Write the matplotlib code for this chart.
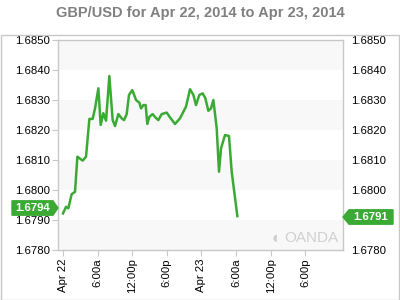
import matplotlib
matplotlib.use('Agg')
import matplotlib.pyplot as plt
import matplotlib.transforms as mtransforms
from matplotlib.patches import Polygon, Rectangle

plt.rcParams['font.family'] = ['Liberation Sans', 'DejaVu Sans']

# hours since Apr 22 00:00
hours = [0.0, 0.52, 0.92, 1.50, 2.08, 2.49, 3.41, 3.99, 4.57, 5.14, 5.55, 6.13,
         6.53, 6.99, 7.46, 8.03, 8.61, 9.02, 9.59, 10.17, 10.58, 11.04, 11.44,
         12.02, 12.66, 13.24, 13.53, 13.93, 14.33, 14.62, 14.97, 15.55, 16.01,
         16.53, 17.11, 17.98, 18.55, 19.42, 20.29, 21.33, 22.02, 22.60, 23.06,
         23.64, 24.22, 24.68, 25.20, 25.66, 26.07, 26.65, 27.05, 27.40, 28.09,
         28.78, 29.25, 30.23]
rates = [1.67922, 1.67944, 1.67939, 1.67986, 1.67994, 1.68111, 1.68098, 1.68111,
         1.68237, 1.68237, 1.68272, 1.68339, 1.68217, 1.68256, 1.68231, 1.68380,
         1.68233, 1.68213, 1.68253, 1.68239, 1.68233, 1.68253, 1.68317, 1.68333,
         1.68300, 1.68291, 1.68272, 1.68283, 1.68283, 1.68220, 1.68244, 1.68253,
         1.68242, 1.68233, 1.68253, 1.68258, 1.68242, 1.68220, 1.68239, 1.68278,
         1.68336, 1.68317, 1.68283, 1.68317, 1.68322, 1.68306, 1.68264, 1.68272,
         1.68300, 1.68206, 1.68061, 1.68139, 1.68183, 1.68180, 1.68061, 1.67913]

x_ticks = [0, 6, 12, 18, 24, 30, 36, 42]
x_labels = ['Apr 22', '6:00a', '12:00p', '6:00p', 'Apr 23', '6:00a', '12:00p', '6:00p']
y_ticks = [1.6780, 1.6790, 1.6800, 1.6810, 1.6820, 1.6830, 1.6840, 1.6850]
open_label = '1.6794'
open_value = 1.6794
close_label = '1.6791'
close_value = 1.6791

green = '#3aaa35'
frame = '#c8c8c8'

fig = plt.figure(figsize=(4, 3), dpi=100)
ax = fig.add_axes([58 / 400, 50 / 300, 285 / 400, 210 / 300])

# alternating bands
for i in range(0, len(y_ticks) - 1, 2):
    ax.axhspan(y_ticks[i], y_ticks[i + 1], color='#f8f8f8', zorder=0, lw=0)

ax.plot(hours, rates, color=green, lw=1.8, zorder=3)

ax.set_xlim(-0.87, 48.55)
ax.set_ylim(1.6780, 1.6850)
ax.set_xticks(x_ticks)
ax.set_xticklabels(x_labels, rotation=90, fontsize=8.2)
ax.set_yticks(y_ticks)
ax.set_yticklabels(['%.4f' % v for v in y_ticks], fontsize=8.2)
ax.tick_params(axis='y', length=4, color=frame, pad=2, labelright=True)
ax.tick_params(axis='y', which='both', right=False)
ax.tick_params(axis='x', length=4, color=frame, pad=2)
for s in ax.spines.values():
    s.set_color(frame)
    s.set_linewidth(1)

fig.text(0.5, 0.957, 'GBP/USD for Apr 22, 2014 to Apr 23, 2014', ha='center',
         va='center', fontsize=10.5, fontweight='bold', color='#808080')

# current value boxes
tr = mtransforms.blended_transform_factory(fig.transFigure, ax.transData)
h = 0.00024
lx0, lx1, ltip = 12 / 400, 53 / 400, 58 / 400
fig.add_artist(Polygon([(lx0, open_value - h), (lx1, open_value - h), (ltip, open_value),
                        (lx1, open_value + h), (lx0, open_value + h)],
                       closed=True, transform=tr, color=green, clip_on=False))
fig.text((lx0 + lx1) / 2, open_value, open_label, transform=tr, ha='center',
         va='center', color='white', fontsize=8.2, fontweight='bold')
rtip, rx0, rx1 = 343 / 400, 349 / 400, 393 / 400
fig.add_artist(Polygon([(rtip, close_value), (rx0, close_value - h), (rx1, close_value - h),
                        (rx1, close_value + h), (rx0, close_value + h)],
                       closed=True, transform=tr, color=green, clip_on=False))
fig.text((rx0 + rx1) / 2, close_value, close_label, transform=tr, ha='center',
         va='center', color='white', fontsize=8.2, fontweight='bold')

# watermark
fig.text(0.6875, 0.205, '\u25D6', fontsize=12, color='#d0d0d0', ha='center', va='center')
fig.text(0.71, 0.205, 'OANDA', fontsize=11, color='#d0d0d0', ha='left', va='center')

# outer frame
fig.add_artist(Rectangle((0.5 / 400, 0.5 / 300), 398.5 / 400, 265 / 300, fill=False,
                         edgecolor=frame, lw=1, transform=fig.transFigure))

fig.savefig('out.png', dpi=100)
